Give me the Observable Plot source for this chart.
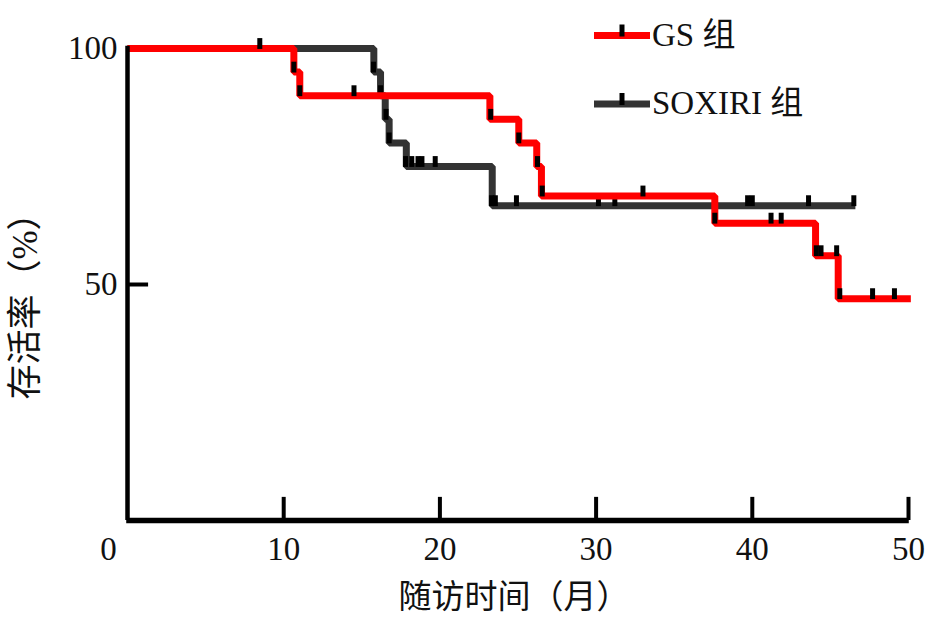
<!DOCTYPE html>
<html>
<head>
<meta charset="utf-8">
<script src="https://cdn.jsdelivr.net/npm/d3@7"></script>
<script src="https://cdn.jsdelivr.net/npm/@observablehq/plot@0.6"></script>
<style>
  html, body { margin: 0; padding: 0; background: #fff; }
  #wrap { position: relative; width: 929px; height: 617px; }
  #legend { position: absolute; left: 0; top: 0; pointer-events: none; }
</style>
</head>
<body>
<div id="wrap"></div>
<script>
// ---- data ----
const groupNames = ["GS 组", "SOXIRI 组"];
const groupColors = ["#ff0000", "#333333"];

// GS group step curve (event times, survival %)
const gsTimes = [0, 10.65, 11.03, 23.2, 25.05, 26.2, 26.5, 37.6, 44.05, 45.5, 50.15];
const gsSurv  = [100, 95, 90, 85, 80, 75, 68.75, 63.0, 56.1, 47.0, 47.0];

// SOXIRI group step curve
const soTimes = [0, 15.77, 16.2, 16.5, 16.75, 17.85, 23.35, 46.6];
const soSurv  = [100, 95, 90, 85, 80, 75, 66.7, 66.7];

// censor marks
const gsCensT = [8.47, 10.65, 11.03, 14.5, 23.25, 25.05, 26.25, 26.55, 33.0, 37.6, 41.2, 41.85, 44.1, 44.4, 45.4, 45.6, 47.7, 49.1];
const gsCensS = [100, 95, 90, 90, 85, 80, 75, 68.75, 68.75, 63.0, 63.0, 63.0, 56.1, 56.1, 56.1, 47.0, 47.0, 47.0];
const soCensT = [15.75, 16.2, 16.55, 16.75, 17.8, 18.2, 18.6, 18.85, 19.7, 23.3, 23.55, 24.9, 30.15, 31.2, 39.7, 40.0, 43.6, 46.5];
const soCensS = [95, 90, 85, 80, 75, 75, 75, 75, 75, 66.7, 66.7, 66.7, 66.7, 66.7, 66.7, 66.7, 66.7, 66.7];

const xTicks = [0, 10, 20, 30, 40, 50];
const yTicks = [50, 100];
const xTitle = "随访时间（月）";
const yTitle = "存活率（%）";

// ---- build tables ----
const gs = gsTimes.map((t, i) => ({t, s: gsSurv[i]}));
const so = soTimes.map((t, i) => ({t, s: soSurv[i]}));
const gsC = gsCensT.map((t, i) => ({t, s: gsCensS[i]}));
const soC = soCensT.map((t, i) => ({t, s: soCensS[i]}));

const FONT = "'Liberation Serif', 'Times New Roman', 'Noto Sans CJK SC', serif";

const chart = Plot.plot({
  width: 929,
  height: 617,
  marginLeft: 127,
  marginRight: 21,
  marginTop: 48,
  marginBottom: 97,
  x: {domain: [0, 50]},
  y: {domain: [0, 100]},
  style: {fontFamily: FONT, fontSize: "33px", background: "#fff", color: "#111", overflow: "visible"},
  marks: [
    // curves
    Plot.line(so, {x: "t", y: "s", curve: "step-after", stroke: groupColors[1], strokeWidth: 7, strokeLinejoin: "miter", strokeLinecap: "butt"}),
    Plot.ruleX(soC, {x: "t", y1: d => d.s - 0.2, y2: d => d.s + 2.1, stroke: "#000", strokeWidth: 5}),
    Plot.line(gs, {x: "t", y: "s", curve: "step-after", stroke: groupColors[0], strokeWidth: 7, strokeLinejoin: "miter", strokeLinecap: "butt"}),
    Plot.ruleX(gsC, {x: "t", y1: d => d.s - 0.2, y2: d => d.s + 2.1, stroke: "#000", strokeWidth: 5}),
    // axis lines
    Plot.ruleX([0], {y1: 0, y2: 100.5, stroke: "#000", strokeWidth: 4.5}),
    Plot.ruleY([0], {x1: -0.05, x2: 50.05, stroke: "#000", strokeWidth: 5.5}),
    // inward ticks
    Plot.ruleX(xTicks.filter(v => v > 0), {y1: 0, y2: 4.9, stroke: "#000", strokeWidth: 4}),
    Plot.ruleY(yTicks.filter(v => v < 100), {x1: 0, x2: 1.35, stroke: "#000", strokeWidth: 4}),
    // tick labels
    Plot.axisX({ticks: xTicks.filter(v => v > 0), tickSize: 0, tickPadding: 16, label: null, fontSize: 33}),
    Plot.axisX({ticks: [0], tickSize: 0, tickPadding: 16, label: null, fontSize: 33, dx: -19}),
    Plot.axisY({ticks: yTicks, tickSize: 0, tickPadding: 10, label: null, fontSize: 33}),
    // axis titles
    Plot.text([xTitle], {frameAnchor: "bottom", dy: 77, text: d => d, fontSize: 33, lineAnchor: "middle", textAnchor: "middle", dx: -4}),
    Plot.text([yTitle], {frameAnchor: "left", dx: -102, dy: 13, text: d => d, fontSize: 35, rotate: -90, lineAnchor: "middle", textAnchor: "middle"})
  ]
});

const wrap = document.getElementById("wrap");
wrap.appendChild(chart);

// legend overlay (inside the plot area, top-right)
const ns = "http://www.w3.org/2000/svg";
const leg = document.createElementNS(ns, "svg");
leg.setAttribute("id", "legend");
leg.setAttribute("width", 929);
leg.setAttribute("height", 140);
const rowsY = [35.5, 104];
groupNames.forEach((name, i) => {
  const y = rowsY[i];
  const l = document.createElementNS(ns, "line");
  l.setAttribute("x1", 594); l.setAttribute("x2", 650);
  l.setAttribute("y1", y); l.setAttribute("y2", y);
  l.setAttribute("stroke", groupColors[i]); l.setAttribute("stroke-width", 7);
  leg.appendChild(l);
  const m = document.createElementNS(ns, "line");
  m.setAttribute("x1", 622); m.setAttribute("x2", 622);
  m.setAttribute("y1", y - 11); m.setAttribute("y2", y + 1);
  m.setAttribute("stroke", "#000"); m.setAttribute("stroke-width", 5);
  leg.appendChild(m);
  const tx = document.createElementNS(ns, "text");
  tx.setAttribute("x", 652); tx.setAttribute("y", y + 10);
  tx.setAttribute("font-family", FONT);
  tx.setAttribute("font-size", 33);
  tx.setAttribute("fill", "#111");
  tx.textContent = name;
  leg.appendChild(tx);
});
wrap.appendChild(leg);
</script>
</body>
</html>
